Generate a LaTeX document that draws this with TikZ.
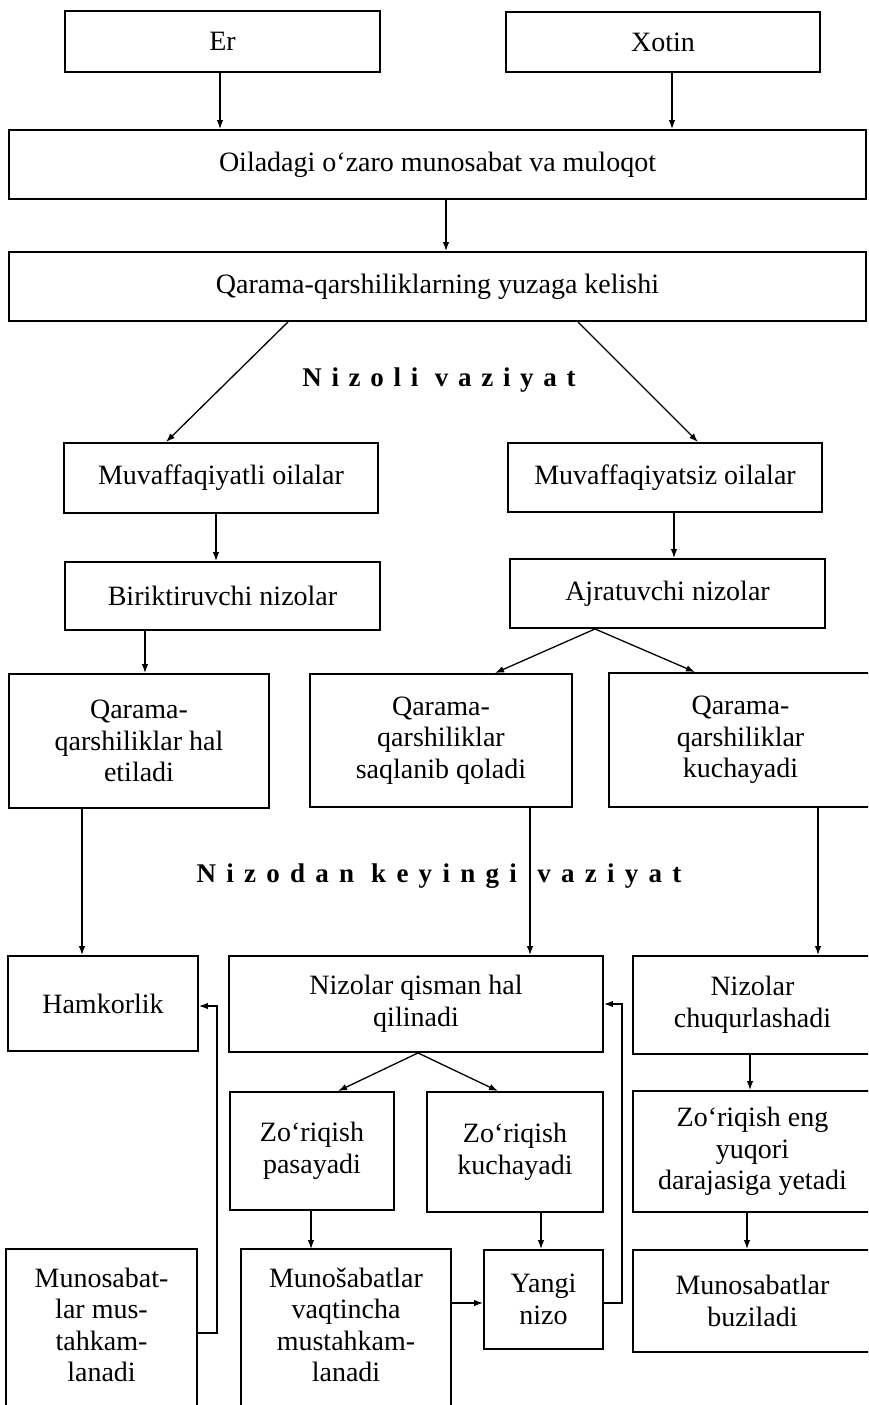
\documentclass[tikz,border=0pt]{standalone}
\usepackage{fontspec}
\setmainfont{Liberation Serif}
\newfontfamily\spacedfont[LetterSpace=36]{Liberation Serif}
\newfontfamily\widerspacedfont[LetterSpace=38]{Liberation Serif}
\usetikzlibrary{arrows.meta,calc}
\begin{document}
\begin{tikzpicture}[x=1pt,y=-1pt,
  box/.style={draw, line width=1.9pt, inner sep=0pt, align=center,
    font=\fontsize{28}{31.5}\selectfont},
  openbox/.style={box, draw=none},
  heading/.style={inner sep=0pt, font=\fontsize{27}{30}\selectfont\spacedfont\bfseries},
  wideheading/.style={inner sep=0pt, font=\fontsize{27}{30}\selectfont\widerspacedfont\bfseries},
  arr/.style={-{Latex[length=9pt,width=6.5pt]}, line width=1.3pt},
  side/.style={line width=1.9pt}]
\useasboundingbox (0,0) rectangle (868,1405);
\clip (0,0) rectangle (868,1405);
% top
\node[box, minimum width=315pt, minimum height=61pt] (er) at (222.5,41.5) {Er};
\node[box, minimum width=314pt, minimum height=60pt] (xotin) at (663,42) {Xotin};
\node[box, minimum width=857pt, minimum height=69pt] (oila) at (437.5,164.5) {Oiladagi o‘zaro munosabat va muloqot};
\node[box, minimum width=857pt, minimum height=69pt] (qarama) at (437.5,286.5) {Qarama-qarshiliklarning yuzaga kelishi};
\node[heading] (h1) at (439,380) {Nizoli vaziyat};
% level 2
\node[box, minimum width=314pt, minimum height=70pt] (muv) at (221,478) {Muvaffaqiyatli oilalar};
\node[box, minimum width=314pt, minimum height=69pt] (muvsiz) at (665,477.5) {Muvaffaqiyatsiz oilalar};
\node[box, minimum width=315pt, minimum height=68pt] (birik) at (222.5,596) {Biriktiruvchi nizolar};
\node[box, minimum width=315pt, minimum height=69pt] (ajrat) at (667.5,593.5) {Ajratuvchi nizolar};
% level 3
\node[box, minimum width=260pt, minimum height=134pt] (halet) at (139,741) {Qarama-\\qarshiliklar hal\\etiladi};
\node[box, minimum width=262pt, minimum height=133pt] (saqlan) at (441,740.5) {Qarama-\\qarshiliklar\\saqlanib qoladi};
\node[box, minimum width=263pt, minimum height=134pt] (kuchay) at (740.5,740) {Qarama-\\qarshiliklar\\kuchayadi};
\node[wideheading] (h2) at (439,876) {Nizodan keyingi\hspace{3.5pt} vaziyat};
% level 4
\node[box, minimum width=190pt, minimum height=95pt] (hamkor) at (103,1003.5) {Hamkorlik};
\node[box, minimum width=374pt, minimum height=96pt] (qisman) at (416,1004) {Nizolar qisman hal\\qilinadi};
\node[box, minimum width=239pt, minimum height=98pt] (chuqur) at (752.5,1005) {Nizolar\\chuqurlashadi};
% level 5
\node[box, minimum width=164pt, minimum height=118pt] (pasay) at (312,1151) {Zo‘riqish\\pasayadi};
\node[box, minimum width=176pt, minimum height=120pt] (kuchz) at (515,1152) {Zo‘riqish\\kuchayadi};
\node[box, minimum width=239pt, minimum height=121pt] (engyu) at (752.5,1151.5) {Zo‘riqish eng\\yuqori\\darajasiga yetadi};
% level 6 (the two lower left boxes run off the bottom edge)
\node[openbox, minimum width=189pt, minimum height=150pt] (munlar) at (101.5,1325) {Munosabat-\\lar mus-\\tahkam-\\lanadi};
\node[openbox, minimum width=208pt, minimum height=150pt] (vaqtin) at (346,1325) {Munošabatlar\\vaqtincha\\mustahkam-\\lanadi};
\draw[side] ([yshift=-20pt]munlar.south west) -- (munlar.north west) -- (munlar.north east) -- ([yshift=-20pt]munlar.south east);
\draw[side] ([yshift=-20pt]vaqtin.south west) -- (vaqtin.north west) -- (vaqtin.north east) -- ([yshift=-20pt]vaqtin.south east);
\node[box, minimum width=119pt, minimum height=99pt] (yangi) at (543.5,1299.5) {Yangi\\nizo};
\node[box, minimum width=239pt, minimum height=102pt] (buzil) at (752.5,1301) {Munosabatlar\\buziladi};
% connectors
\draw[arr] ([xshift=-2.5pt]er.south) -- ([xshift=-2.5pt]er.south |- oila.north);
\draw[arr] ([xshift=9pt]xotin.south) -- ([xshift=9pt]xotin.south |- oila.north);
\draw[arr] ([xshift=8.5pt]oila.south) -- ([xshift=8.5pt]oila.south |- qarama.north);
\draw[arr] ([xshift=-149.5pt]qarama.south) -- ([xshift=-55pt]muv.north);
\draw[arr] ([xshift=140.5pt]qarama.south) -- ([xshift=33pt]muvsiz.north);
\draw[arr] ([xshift=-5pt]muv.south) -- ([xshift=-5pt]muv.south |- birik.north);
\draw[arr] ([xshift=9pt]muvsiz.south) -- ([xshift=9pt]muvsiz.south |- ajrat.north);
\draw[arr] ([xshift=-77.5pt]birik.south) -- ([xshift=-77.5pt]birik.south |- halet.north);
\draw[arr] ([xshift=-72.5pt]ajrat.south) -- ([xshift=54pt]saqlan.north);
\draw[arr] ([xshift=-72.5pt]ajrat.south) -- ([xshift=-45.5pt]kuchay.north);
\draw[arr] ([xshift=-57pt]halet.south) -- ([xshift=-57pt]halet.south |- hamkor.north);
\draw[arr] ([xshift=89pt]saqlan.south) -- ([xshift=89pt]saqlan.south |- qisman.north);
\draw[arr] ([xshift=77.5pt]kuchay.south) -- ([xshift=77.5pt]kuchay.south |- chuqur.north);
\draw[arr] ([xshift=2pt]qisman.south) -- ([xshift=26pt]pasay.north);
\draw[arr] ([xshift=2pt]qisman.south) -- ([xshift=-17pt]kuchz.north);
\draw[arr] ([xshift=-2.5pt]chuqur.south) -- ([xshift=-2.5pt]chuqur.south |- engyu.north);
\draw[arr] ([xshift=-1pt]pasay.south) -- ([xshift=-1pt]pasay.south |- vaqtin.north);
\draw[arr] ([xshift=26pt]kuchz.south) -- ([xshift=26pt]kuchz.south |- yangi.north);
\draw[arr] ([xshift=-5.5pt]engyu.south) -- ([xshift=-5.5pt]engyu.south |- buzil.north);
\coordinate (yw) at ([yshift=-3.5pt]yangi.west);
\coordinate (ye) at ([yshift=-3.5pt]yangi.east);
\coordinate (me) at ([yshift=-8pt]munlar.east);
\draw[arr] (yw -| vaqtin.east) -- (yw);
\draw[arr] (ye) -- ++(18,0) |- (qisman.east);
\draw[arr] (me) -- ++(20,0) |- ([yshift=-2.5pt]hamkor.east);
\end{tikzpicture}
\end{document}
